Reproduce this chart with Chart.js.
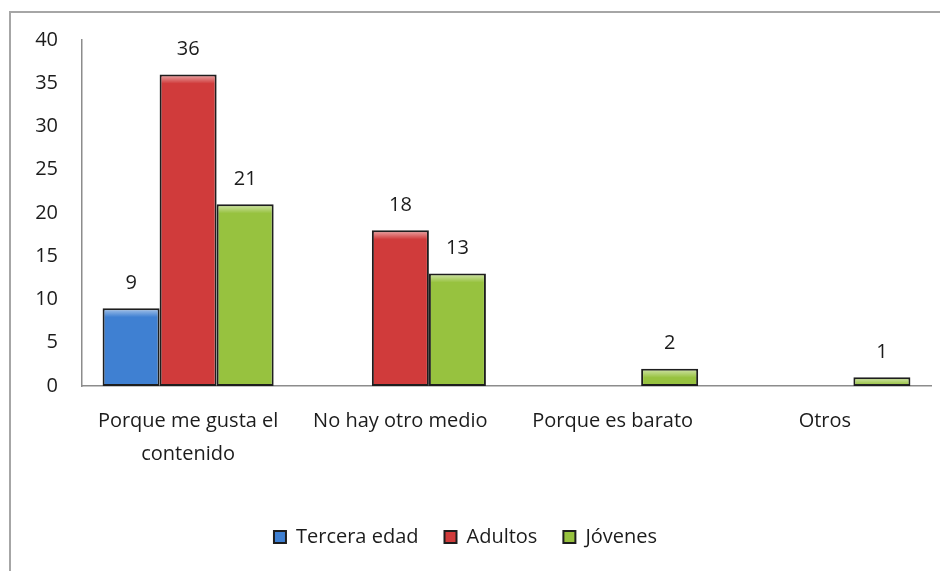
<!DOCTYPE html>
<html>
<head>
<meta charset="utf-8">
<script src="https://cdn.jsdelivr.net/npm/chart.js@4"></script>
<style>
    html, body { margin: 0; padding: 0; background: #fff; }
    .frame {
        position: absolute;
        left: 9px; top: 11px;
        width: 940px; height: 570px;
        border-top: 2px solid #a6a6a6;
        border-left: 2px solid #a6a6a6;
    }
    #chart { position: absolute; left: 0; top: 0; }
</style>
</head>
<body>
<div class="frame"></div>
<canvas id="chart" width="940" height="571"></canvas>
<script>
const categories = [['Porque me gusta el', 'contenido'], 'No hay otro medio', 'Porque es barato', 'Otros'];
const seriesNames = ['Tercera edad', 'Adultos', 'Jóvenes'];
const terceraEdad = [9, null, null, null];
const adultos = [36, 18, null, null];
const jovenes = [21, 13, 2, 1];
const yTicks = [0, 5, 10, 15, 20, 25, 30, 35, 40];

const fills = ['#3f80d2', '#d03b3b', '#97c23f'];
const FONT = "'Open Sans', sans-serif";
const TEXT = '#1c1c1c';

// value labels above each bar
const valueLabels = {
    id: 'valueLabels',
    afterDatasetsDraw(chart) {
        const ctx = chart.ctx;
        ctx.save();
        ctx.font = '20px ' + FONT;
        ctx.fillStyle = TEXT;
        ctx.textAlign = 'center';
        ctx.textBaseline = 'middle';
        chart.data.datasets.forEach((ds, i) => {
            chart.getDatasetMeta(i).data.forEach((bar, j) => {
                if (ds.data[j] == null) return;
                ctx.fillText(String(ds.data[j]), bar.x, bar.y - 25);
            });
        });
        ctx.restore();
    }
};

// light bevel along the top of each bar
const barBevel = {
    id: 'barBevel',
    afterDatasetDraw(chart, args) {
        const ctx = chart.ctx;
        const values = chart.data.datasets[args.index].data;
        args.meta.data.forEach((bar, j) => {
            if (values[j] == null) return;
            const w = bar.width - 4;
            const left = bar.x - w / 2;
            const top = bar.y + 2;
            const h = Math.min(7, bar.base - top - 1);
            if (h <= 0) return;
            const g = ctx.createLinearGradient(0, top, 0, top + h);
            g.addColorStop(0, 'rgba(255,255,255,0.45)');
            g.addColorStop(1, 'rgba(255,255,255,0)');
            ctx.save();
            ctx.fillStyle = g;
            ctx.fillRect(left, top, w, h);
            ctx.restore();
        });
    }
};

new Chart(document.getElementById('chart'), {
    type: 'bar',
    data: {
        labels: categories,
        datasets: seriesNames.map((name, i) => ({
            label: name,
            data: [terceraEdad, adultos, jovenes][i],
            backgroundColor: fills[i],
            borderColor: '#1e1e1e',
            borderWidth: 2,
            borderSkipped: false,
            barPercentage: 1,
            categoryPercentage: 0.806
        }))
    },
    options: {
        responsive: false,
        animation: false,
        devicePixelRatio: 1,
        layout: { padding: { top: 40, right: 9, left: 0, bottom: 14 } },
        scales: {
            x: {
                grid: { display: false },
                border: { display: true, color: '#8c8c8c', width: 1.5 },
                ticks: {
                    color: TEXT,
                    font: { family: FONT, size: 20, lineHeight: 1.65 },
                    padding: 11,
                    maxRotation: 0,
                    autoSkip: false
                },
                afterFit(scale) { scale.height = 115; }
            },
            y: {
                min: 0,
                max: 40,
                afterBuildTicks(scale) { scale.ticks = yTicks.map(v => ({ value: v })); },
                grid: { display: false },
                border: { display: true, color: '#8c8c8c', width: 1.5 },
                ticks: {
                    color: TEXT,
                    font: { family: FONT, size: 20 },
                    padding: 16
                },
                afterFit(scale) { scale.width = 82; }
            }
        },
        plugins: {
            legend: {
                position: 'bottom',
                labels: {
                    color: TEXT,
                    font: { family: FONT, size: 20 },
                    boxWidth: 12,
                    boxHeight: 12,
                    padding: 26,
                    useBorderRadius: false
                }
            },
            tooltip: { enabled: false }
        }
    },
    plugins: [valueLabels, barBevel]
});
</script>
</body>
</html>
